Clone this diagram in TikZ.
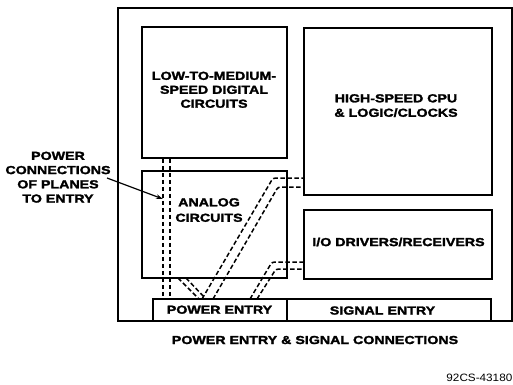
\documentclass[tikz,border=0pt]{standalone}
\usepackage{fontspec}
\setmainfont[FakeStretch=1.1]{Liberation Sans}
\newfontfamily\heavy[UprightFont={* Bold}, FakeStretch=1.22, FakeBold=2]{Liberation Sans}
\usetikzlibrary{arrows.meta}
\begin{document}
\begin{tikzpicture}[x=1bp,y=-1bp,
  box/.style={draw, line width=1.6bp, inner sep=0pt, rectangle},
  lab/.style={font=\fontsize{11.7}{14.3}\selectfont\heavy, align=center, inner sep=0pt},
  wire/.style={line width=1.5bp, dash pattern=on 4.5bp off 2.5bp, rounded corners=2.5bp},
  pointer/.style={line width=1.2bp, -{Stealth[length=7bp,width=4.5bp]}}]
\useasboundingbox (0,0) rectangle (513,384);
% frame and blocks
\node[box, minimum width=394bp, minimum height=313bp] (outer) at (315,164.5) {};
\node[box, minimum width=145bp, minimum height=131bp] (low) at (214.5,92.5) {};
\node[box, minimum width=145bp, minimum height=107bp] (analog) at (214.5,224.5) {};
\node[box, minimum width=188bp, minimum height=167bp] (cpu) at (398,111.5) {};
\node[box, minimum width=188bp, minimum height=69bp] (io) at (398,244.5) {};
\node[box, minimum width=134bp, minimum height=22bp] (pwr) at (220,310) {};
\node[box, minimum width=204bp, minimum height=22bp] (sig) at (389,310) {};
% texts
\node[lab, anchor=north, font=\fontsize{11.7}{14}\selectfont\heavy] (lowtxt) at (214,71.5) {LOW-TO-MEDIUM-\\SPEED DIGITAL\\CIRCUITS};
\node[lab, anchor=north, font=\fontsize{11.7}{14.5}\selectfont\heavy] (cputxt) at (396,94) {HIGH-SPEED CPU\\\& LOGIC/CLOCKS};
\node[lab, anchor=north, font=\fontsize{11.7}{15.5}\selectfont\heavy] (antxt) at (209,198) {ANALOG\\CIRCUITS};
\node[lab] (iotxt) at (398.5,242) {I/O DRIVERS/RECEIVERS};
\node[lab] (pwrtxt) at (219.5,309.7) {POWER ENTRY};
\node[lab] (sigtxt) at (382.5,310.5) {SIGNAL ENTRY};
\node[lab] (caption) at (315,340) {POWER ENTRY \& SIGNAL CONNECTIONS};
\node[inner sep=0pt, anchor=east, font=\fontsize{10.7}{12}\selectfont] (figid) at (512.5,378) {92CS-43180};
\node[lab, anchor=north] (pctxt) at (58,151.5) {POWER\\CONNECTIONS\\OF PLANES\\TO ENTRY};
% wire coordinates
\coordinate (v1) at (163,0);
\coordinate (v2) at (170,0);
\coordinate (a1) at (202,299);
\coordinate (b1) at (273,178);
\coordinate (a2) at (213,299);
\coordinate (b2) at (278,187);
\coordinate (a3) at (250,299);
\coordinate (b3) at (272,262);
\coordinate (a4) at (257,299);
\coordinate (b4) at (276,269);
\coordinate (c1) at (178,278);
\coordinate (e1) at (199,299);
\coordinate (c2) at (186,278);
\coordinate (e2) at (206,299);
\coordinate (arrstart) at (107,178);
\coordinate (arrtip) at (163,199);
% power connections
\draw[wire] (low.south -| v1) -- (pwr.north -| v1);
\draw[wire] (low.south -| v2) -- (pwr.north -| v2);
\draw[wire] (c1) -- (e1);
\draw[wire] (c2) -- (e2);
\draw[wire] (a1) -- (b1) -- (cpu.west |- b1);
\draw[wire] (a2) -- (b2) -- (cpu.west |- b2);
\draw[wire] (a3) -- (b3) -- (io.west |- b3);
\draw[wire] (a4) -- (b4) -- (io.west |- b4);
% pointer
\draw[pointer] (arrstart) -- (arrtip);
\end{tikzpicture}
\end{document}
